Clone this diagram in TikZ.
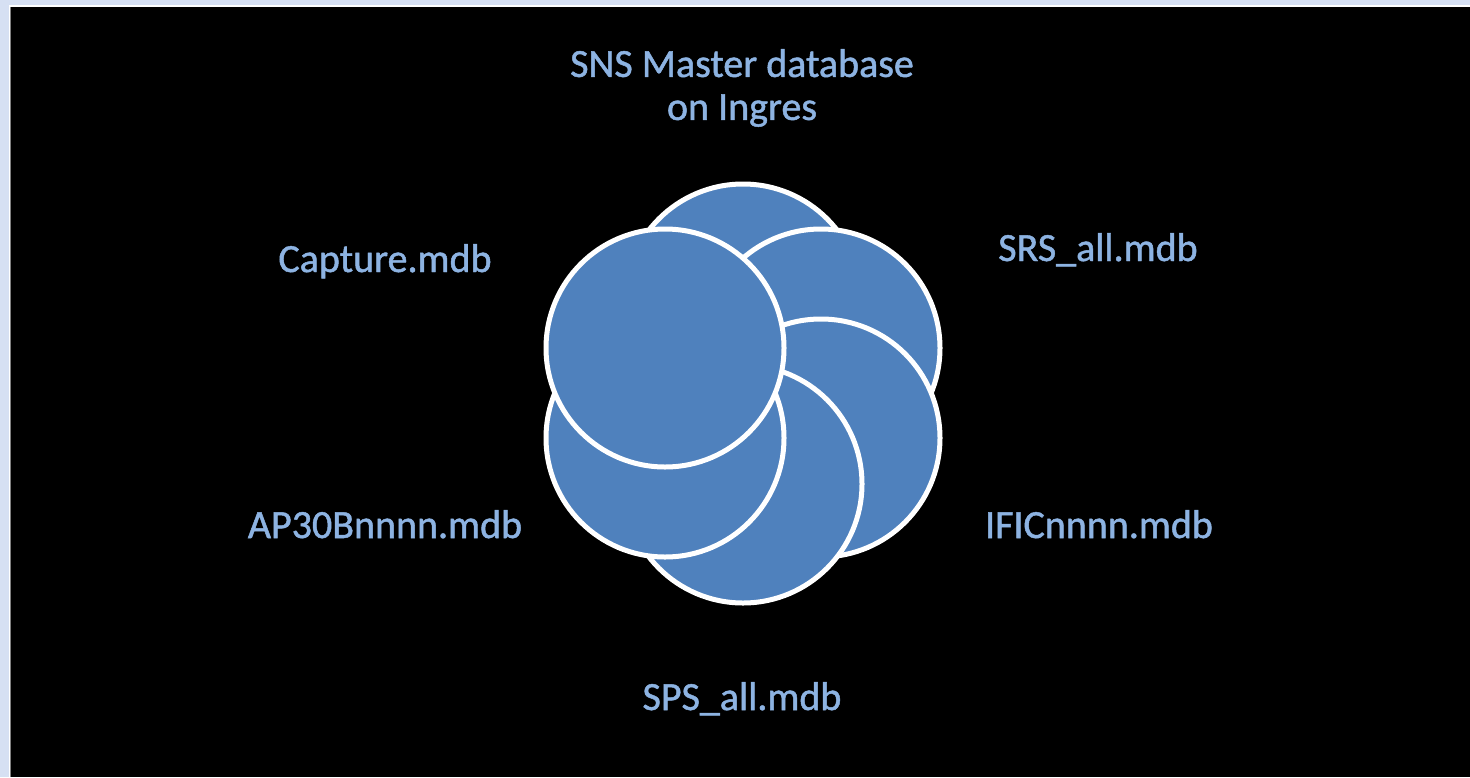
\documentclass[tikz,border=0pt]{standalone}
\usepackage{fontspec}
\setmainfont{Carlito}
\newfontfamily\labelfont{Carlito}[RawFeature={embolden=1.2}]
\usetikzlibrary{positioning}
\definecolor{pageblue}{HTML}{D6E0F3}
\definecolor{discblue}{HTML}{4F81BD}
\definecolor{labelblue}{HTML}{8DB3E2}

\begin{document}
\begin{tikzpicture}[x=1pt, y=-1pt, node distance = 2em]
    \tikzset{
        disc/.style = {circle, fill = discblue, draw = white, line width = 5pt, minimum size = 238pt, inner sep = 0pt},
        dblabel/.style = {text = labelblue, font = \labelfont\fontsize{40}{43}\selectfont, inner sep = 0pt, align = center}
    }

    % page and slide background
    \fill[pageblue] (0,0) rectangle (1470,777);
    \useasboundingbox (0,0) rectangle (1470,777);
    \fill[white] (8.5,4.5) rectangle (1470,777);
    \fill[gray] (10,6.5) rectangle (1470,777);
    \fill[black] (11,7) rectangle (1470,777);

    % the six discs, clockwise from the top
    \node[disc] (dTop) at (743,303) {};
    \node[disc] (dRU)  at (821,348) {};
    \node[disc] (dRL)  at (821,438) {};
    \node[disc] (dBot) at (743,484) {};
    \node[disc] (dLL)  at (665,438) {};
    \node[disc] (dLU)  at (665,348) {};

    % database labels
    \node[dblabel] (master) at (742,88) {SNS Master database\\on Ingres};
    \node[dblabel, anchor = base] (capture) at (385,272) {Capture.mdb};
    \node[dblabel, anchor = base] (srs)     at (1098,261) {SRS\_all.mdb};
    \node[dblabel, anchor = base] (ific)    at (1099,538) {IFICnnnn.mdb};
    \node[dblabel, anchor = base] (ap)      at (385,538) {AP30Bnnnn.mdb};
    \node[dblabel, anchor = base] (sps)     at (742,710) {SPS\_all.mdb};

\end{tikzpicture}
\end{document}
